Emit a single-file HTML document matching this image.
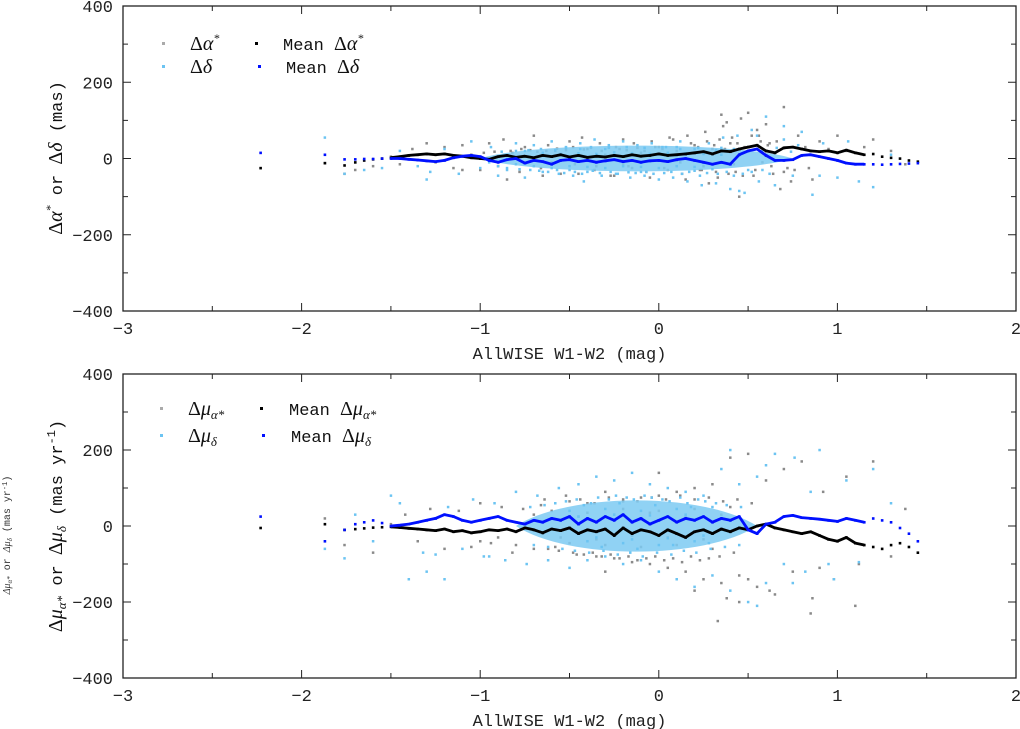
<!DOCTYPE html>
<html><head><meta charset="utf-8">
<style>
html,body{margin:0;padding:0;background:#fff;}
svg{display:block;}
.tk{font-family:"Liberation Mono",monospace;font-size:17px;fill:#222;}
.mono{font-family:"Liberation Mono",monospace;}
.gr{font-family:"Liberation Serif",serif;font-style:italic;}
</style></head>
<body>
<svg id="chart" width="1020" height="729" xmlns="http://www.w3.org/2000/svg">
<text transform="translate(10,535) rotate(-90)" text-anchor="middle" font-size="10" fill="#333"><tspan class="gr">Δμ</tspan><tspan class="gr" font-size="7" dy="2">α*</tspan><tspan class="mono" dy="-2"> or </tspan><tspan class="gr">Δμ</tspan><tspan class="gr" font-size="7" dy="2">δ</tspan><tspan class="mono" dy="-2"> (mas yr</tspan><tspan class="mono" font-size="7" dy="-3">-1</tspan><tspan class="mono" dy="3">)</tspan></text>
</svg>
<script>
// ---------- data: top panel (positions, mas) ----------
const xTicks=[-3,-2,-1,0,1,2];
const yTicks=[-400,-200,0,200,400];
const topGrayX=[-1.87,-1.76,-1.7,-1.6,-1.5,-1.45,-1.38,-1.3,-1.25,-1.2,-1.15,-1.1,-1.05,-1.0,-0.95,-0.9,-0.87,-0.82,-0.78,-0.75,-0.7,-0.66,-0.62,-0.58,-0.55,-0.5,-0.47,-0.43,-0.4,-0.36,-0.33,-0.3,-0.27,-0.24,-0.2,-0.17,-0.14,-0.1,-0.07,-0.04,0.0,0.03,0.06,0.1,0.13,0.16,0.2,0.23,0.26,0.3,0.33,0.36,0.4,0.43,0.46,0.5,0.53,0.56,0.6,0.63,0.66,0.7,0.74,0.78,0.82,0.86,0.9,0.95,1.0,1.05,1.1,1.15,1.2,1.3,1.38,0.35,0.38,0.5,0.55,0.62,0.68,0.45,0.28,0.15,-0.05,-0.25,-0.45,-0.65,-0.85,-1.1,-0.35,-0.15,0.05,0.25,0.42,0.58,0.72,-0.6,-0.2,0.1,
 0.12,0.18,0.22,0.27,0.31,0.34,0.37,0.41,0.44,0.48,0.52,0.57,0.61,0.08,0.02,-0.02,-0.08,-0.12,-0.18,-0.22,-0.28,-0.32,-0.38,-0.42,-0.48,-0.52,-0.57,-0.63,-0.68,-0.72,-0.77,-0.83,-0.92,-0.98,0.14,0.24,0.32,0.39,0.47,0.54,0.64,0.7,0.76,0.84];
const topGrayY=[-12,-40,-30,-20,5,-15,25,40,-10,30,-25,35,10,-30,40,-20,50,15,-35,30,60,-25,35,20,-40,45,-15,55,25,-30,40,10,-45,30,50,-20,40,15,-35,45,30,-25,55,20,-40,60,35,-30,70,25,-50,85,40,-35,105,30,-45,60,90,-20,45,135,-60,60,30,-55,45,25,60,20,-15,30,50,20,-15,115,95,120,75,40,-80,-100,-65,-55,-50,-45,-40,-45,-55,-30,-20,-25,-30,-20,-15,-10,-25,-10,-15,-5,-10,
 40,30,45,35,50,25,55,40,30,60,45,35,50,25,30,20,28,22,25,30,20,28,24,30,22,26,20,18,22,25,20,18,15,12,-30,-35,-40,-45,-30,-40,-35,-30,-25,-20];
const topBlueX=[-1.87,-1.76,-1.65,-1.55,-1.45,-1.35,-1.28,-1.2,-1.12,-1.05,-1.0,-0.94,-0.9,-0.85,-0.8,-0.75,-0.7,-0.65,-0.6,-0.56,-0.52,-0.48,-0.44,-0.4,-0.36,-0.32,-0.28,-0.24,-0.2,-0.16,-0.12,-0.08,-0.04,0.0,0.04,0.08,0.12,0.16,0.2,0.24,0.28,0.32,0.36,0.4,0.44,0.48,0.52,0.56,0.6,0.65,0.7,0.75,0.8,0.86,0.92,1.0,1.06,1.12,1.2,1.3,-0.7,-0.6,-0.5,-0.4,-0.3,-0.2,-0.1,0.0,0.1,0.2,0.3,-0.65,-0.55,-0.45,-0.35,-0.25,-0.15,-0.05,0.05,0.15,0.25,0.35,-0.8,-0.75,-0.5,-0.3,-0.1,0.1,0.2,0.35,0.5,0.62,0.78,0.9,-1.3,-0.95,-0.42,0.45,0.55,0.7,
 -0.9,-0.85,-0.78,-0.72,-0.67,-0.62,-0.57,-0.53,-0.47,-0.43,-0.37,-0.33,-0.27,-0.23,-0.17,-0.13,-0.07,-0.03,0.03,0.07,0.13,0.17,0.23,0.27,0.33,0.38,0.42,0.47,0.52,0.58,-0.88,-0.8,-0.73,-0.66,-0.58,-0.52,-0.44,-0.38,-0.28,-0.18,-0.08,0.02,0.12,0.22,0.32,0.42,0.5,0.58,0.66,0.74];
const topBlueY=[55,-40,-30,-25,20,-20,-35,25,-40,45,-25,30,-45,-30,40,-50,35,-35,45,-40,30,-45,40,-35,50,-45,35,-40,45,-50,35,-45,40,-55,30,-50,45,-60,25,-70,40,-65,55,-80,60,-90,75,-60,110,-70,85,-45,70,-95,40,-50,45,-60,-75,10,-20,-25,-20,-22,-25,-20,-22,-25,-20,-22,-28,15,12,14,12,16,14,12,15,14,12,10,-15,20,-30,25,-35,30,-32,28,-30,-40,35,-45,-55,-10,-60,-85,60,50,
 -20,-25,-28,-30,-32,-35,-30,-38,-35,-40,-32,-38,-35,-40,-36,-38,-35,-40,-38,-35,-40,-35,-45,-38,-40,-35,-45,-40,-35,-30,18,20,22,25,22,28,25,30,28,30,28,30,25,28,22,25,30,20,28,18];
const topMeanAX=[-2.23,-1.87,-1.76,-1.7,-1.65,-1.6,-1.55,-1.5,-1.45,-1.4,-1.35,-1.3,-1.25,-1.2,-1.15,-1.1,-1.05,-1.0,-0.95,-0.9,-0.85,-0.8,-0.75,-0.7,-0.65,-0.6,-0.55,-0.5,-0.45,-0.4,-0.35,-0.3,-0.25,-0.2,-0.15,-0.1,-0.05,0.0,0.05,0.1,0.15,0.2,0.25,0.3,0.35,0.4,0.45,0.5,0.55,0.6,0.65,0.7,0.75,0.8,0.85,0.9,0.95,1.0,1.05,1.1,1.15,1.2,1.25,1.3,1.35,1.4,1.45];
const topMeanAY=[-25,-12,-18,-10,-5,-2,0,2,5,8,10,12,10,12,8,6,2,0,-2,5,8,3,6,2,8,5,10,4,8,3,6,4,8,5,10,6,8,12,8,10,12,15,18,12,20,18,25,30,35,20,15,28,30,25,20,18,20,15,22,15,10,12,5,2,0,-5,-8];
const topMeanDX=topMeanAX;
const topMeanDY=[15,10,-2,-2,-1,-1,0,0,0,-2,-4,-6,-8,-5,2,6,8,5,-5,-10,-3,0,-12,-5,-8,-15,-5,-3,-8,-5,-10,-6,-3,-8,-5,-10,-6,-5,-8,-3,0,-5,-10,-15,-10,-15,10,20,25,8,-5,-5,-3,8,10,5,0,-5,-12,-15,-15,-15,-16,-15,-14,-13,-12];
// ---------- data: bottom panel (proper motions, mas/yr) ----------
const botGrayX=[-1.87,-1.76,-1.6,-1.5,-1.42,-1.35,-1.28,-1.2,-1.12,-1.05,-1.0,-0.94,-0.88,-0.82,-0.76,-0.7,-0.64,-0.58,-0.52,-0.46,-0.4,-0.35,-0.3,-0.25,-0.2,-0.15,-0.1,-0.05,0.0,0.05,0.1,0.15,0.2,0.25,0.3,0.35,0.4,0.45,0.5,0.55,0.6,0.65,0.7,0.75,0.8,0.86,0.92,0.98,1.05,1.12,1.2,1.3,1.38,-0.6,-0.5,-0.4,-0.3,-0.2,-0.1,0.0,0.1,0.2,0.3,0.4,-0.55,-0.45,-0.35,-0.25,-0.15,-0.05,0.05,0.15,0.25,0.35,-0.8,-0.7,0.33,0.45,0.62,0.85,1.1,0.9,0.5,0.38,0.2,-0.9,-1.0,-0.3,0.0,
 -0.62,-0.56,-0.48,-0.42,-0.37,-0.32,-0.27,-0.22,-0.17,-0.12,-0.07,-0.02,0.03,0.08,0.13,0.18,0.23,0.28,0.34,0.42,-0.66,-0.58,-0.5,-0.44,-0.36,-0.28,-0.2,-0.12,-0.04,0.04,0.12,0.2,0.28,0.36,0.44,0.52];
const botGrayY=[20,-50,-70,5,30,-40,45,-60,40,-55,60,-45,50,-70,45,-60,70,-55,80,-75,60,-80,90,-85,65,-95,75,-100,80,-110,90,-120,100,-140,110,-150,180,-130,190,-160,120,-180,150,-120,170,-190,90,-140,130,-100,170,-80,45,40,-45,35,-50,45,-55,40,-50,45,-60,50,-30,25,-35,30,-25,35,-30,25,-35,30,-50,30,-250,-200,-170,-230,-210,-110,-140,-190,-170,-30,-40,-120,140,
 -60,-65,-70,-75,-70,-80,-75,-85,-80,-90,-85,-80,-90,-85,-95,-80,-90,-85,-80,-70,55,60,65,70,60,75,70,65,75,70,80,70,75,65,70,60];
const botBlueX=[-1.87,-1.76,-1.7,-1.6,-1.5,-1.45,-1.4,-1.32,-1.25,-1.18,-1.1,-1.04,-0.98,-0.92,-0.86,-0.8,-0.74,-0.68,-0.62,-0.56,-0.5,-0.45,-0.4,-0.35,-0.3,-0.25,-0.2,-0.15,-0.1,-0.05,0.0,0.05,0.1,0.15,0.2,0.25,0.3,0.35,0.4,0.45,0.5,0.55,0.6,0.65,0.7,0.76,0.82,0.9,0.98,1.05,1.12,1.2,1.3,-0.5,-0.4,-0.3,-0.2,-0.1,0.0,0.1,0.2,0.3,-0.45,-0.35,-0.25,-0.15,-0.05,0.05,0.15,0.25,-0.42,-0.32,-0.22,-0.12,-0.02,0.08,0.18,0.28,-1.3,-1.2,-0.95,0.4,0.55,0.75,0.95,0.6,0.85,
 -0.72,-0.64,-0.58,-0.52,-0.46,-0.38,-0.34,-0.28,-0.24,-0.18,-0.14,-0.08,-0.04,0.02,0.06,0.12,0.16,0.22,0.26,0.32,0.38,0.46,-0.7,-0.62,-0.54,-0.47,-0.39,-0.31,-0.23,-0.16,-0.09,-0.01,0.07,0.14,0.21,0.29,0.37,0.45];
const botBlueY=[-60,-85,30,-40,80,60,-140,-70,-75,50,-60,70,-80,60,-90,90,-100,80,-90,100,-110,110,-90,130,-80,120,-100,140,-90,110,-120,100,-140,90,-160,80,-130,150,-170,110,-200,130,-150,190,-100,180,-120,200,-140,120,-95,150,60,40,-40,45,-45,40,-50,45,-40,50,25,-30,30,-35,28,-32,30,-25,55,-55,60,-60,55,-50,50,-45,-120,-140,-80,200,-210,-150,-100,160,90,
 50,55,60,65,70,60,75,70,80,75,70,80,75,70,65,75,60,70,65,60,55,50,-50,-55,-60,-65,-70,-65,-75,-70,-80,-70,-75,-65,-70,-60,-55,-50];
const botMeanAX=[-2.23,-1.87,-1.76,-1.7,-1.65,-1.6,-1.55,-1.5,-1.45,-1.4,-1.35,-1.3,-1.25,-1.2,-1.15,-1.1,-1.05,-1.0,-0.95,-0.9,-0.85,-0.8,-0.75,-0.7,-0.65,-0.6,-0.55,-0.5,-0.45,-0.4,-0.35,-0.3,-0.25,-0.2,-0.15,-0.1,-0.05,0.0,0.05,0.1,0.15,0.2,0.25,0.3,0.35,0.4,0.45,0.5,0.55,0.6,0.65,0.7,0.75,0.8,0.85,0.9,0.95,1.0,1.05,1.1,1.15,1.2,1.25,1.3,1.35,1.4,1.45];
const botMeanAY=[-5,5,-10,-8,-6,-4,-3,-2,-4,-6,-8,-10,-12,-8,-15,-12,-18,-15,-10,-12,-8,-15,-5,-10,-18,-8,-12,-5,-20,-10,-15,-8,-25,-5,-20,-10,-15,-25,-10,-20,-30,-15,-10,-20,-8,-15,-5,-10,0,5,-5,-10,-15,-20,-15,-25,-35,-40,-30,-45,-50,-55,-60,-50,-45,-55,-70];
const botMeanDX=botMeanAX;
const botMeanDY=[25,-40,-10,5,10,15,8,0,2,5,10,15,20,30,25,15,10,15,20,25,15,10,5,15,10,20,15,25,5,20,10,25,15,30,10,20,5,15,25,10,20,15,25,10,20,15,25,-10,-20,5,10,25,28,22,20,18,15,12,20,15,10,20,15,10,-5,-20,-40];
</script>
<script>
const svg=document.getElementById('chart');
const NS='http://www.w3.org/2000/svg';
const X0=123,X1=1016;
function sx(v){return X0+(v+3)/5*(X1-X0);}
function mk(tag,attrs,parent){const e=document.createElementNS(NS,tag);for(const k in attrs)e.setAttribute(k,attrs[k]);(parent||svg).appendChild(e);return e;}
function panel(name,top,bottom,xTitle,grayX,grayY,blueX,blueY,mAX,mAY,mDX,mDY,coreX0,coreX1,coreH){
  const g=mk('g',{});
  
  
  const sy=v=>top+(400-v)/800*(bottom-top);
  const sg=mk('g',{},g);
  
  
  for(let i=0;i<grayX.length;i++){const c=mk('rect',{x:sx(grayX[i])-1.2,y:sy(grayY[i])-1.2,width:2.5,height:2.5,fill:'#8a8a8a'},sg);}
  const core=mk('path',{d:'M'+sx(coreX0)+','+sy(0)+' C'+sx(coreX0+0.3)+','+sy(-coreH)+' '+sx(coreX1-0.3)+','+sy(-coreH)+' '+sx(coreX1)+','+sy(0)+' C'+sx(coreX1-0.3)+','+sy(coreH)+' '+sx(coreX0+0.3)+','+sy(coreH)+' '+sx(coreX0)+','+sy(0)+'Z',fill:'#7ccaf2',opacity:0.85},g);
  
  
  const bg=mk('g',{},g);
  
  
  for(let i=0;i<blueX.length;i++){const c=mk('rect',{x:sx(blueX[i])-1.2,y:sy(blueY[i])-1.2,width:2.5,height:2.5,fill:'#6cc4f2'},bg);}
  function meanLine(xs,ys,col,nm){
    const lg=mk('g',{},g);
    
    
    let d='';
    for(let i=0;i<xs.length;i++){
      if(xs[i]>-1.55&&xs[i]<1.2){d+=(d?'L':'M')+sx(xs[i]).toFixed(1)+','+sy(ys[i]).toFixed(1);}
      const p=mk('rect',{x:sx(xs[i])-1.2,y:sy(ys[i])-1.2,width:2.6,height:2.6,fill:col},lg);
      
      
    }
    const pl=mk('path',{d:d,fill:'none',stroke:col,'stroke-width':2.8,'stroke-linejoin':'round'},lg);
    
    
  }
  meanLine(mAX,mAY,'#000','mean-ra-series');
  meanLine(mDX,mDY,'#0010ff','mean-dec-series');
  const fr=mk('rect',{x:X0,y:top,width:X1-X0,height:bottom-top,fill:'none',stroke:'#222','stroke-width':1.3},g);
  
  
  for(let v=-3;v<=2.001;v+=0.5){const maj=Math.abs(v-Math.round(v))<1e-6;const L=maj?8:5;
    mk('line',{x1:sx(v),x2:sx(v),y1:bottom,y2:bottom-L,stroke:'#222'},g);mk('line',{x1:sx(v),x2:sx(v),y1:top,y2:top+L,stroke:'#222'},g);}
  for(let v=-400;v<=400;v+=100){const maj=v%200===0;const L=maj?8:5;
    mk('line',{x1:X0,x2:X0+L,y1:sy(v),y2:sy(v),stroke:'#222'},g);mk('line',{x1:X1,x2:X1-L,y1:sy(v),y2:sy(v),stroke:'#222'},g);}
  xTicks.forEach(v=>{const t=mk('text',{x:sx(v),y:bottom+23,'text-anchor':'middle',class:'tk'},g);t.textContent=v<0?'\u2212'+(-v):String(v);
    });
  yTicks.forEach(v=>{const t=mk('text',{x:X0-10,y:sy(v)+6,'text-anchor':'end',class:'tk'},g);t.textContent=v<0?'\u2212'+(-v):String(v);
    });
  const xt=mk('text',{x:sx(-0.5),y:bottom+48,'text-anchor':'middle',class:'tk'},g);xt.textContent=xTitle;
  
  return sy;
}
panel('top',6,311,'AllWISE W1-W2 (mag)',topGrayX,topGrayY,topBlueX,topBlueY,topMeanAX,topMeanAY,topMeanDX,topMeanDY,-1.0,0.75,45);
panel('bottom',374,678,'AllWISE W1-W2 (mag)',botGrayX,botGrayY,botBlueX,botBlueY,botMeanAX,botMeanAY,botMeanDX,botMeanDY,-0.8,0.55,90);
</script>
<svg width="1020" height="729" style="position:absolute;left:0;top:0" xmlns="http://www.w3.org/2000/svg">
<g fill="#111">
 <rect x="162" y="42" width="3" height="3" fill="#aaa"/>
 <text x="190" y="50"><tspan font-family="Liberation Serif" font-size="20">Δ</tspan><tspan class="gr" font-size="20">α</tspan><tspan class="gr" font-size="12" dy="-8">*</tspan></text>
 <rect x="162" y="65" width="3" height="3" fill="#6cc4f2"/>
 <text x="190" y="73"><tspan font-family="Liberation Serif" font-size="20">Δ</tspan><tspan class="gr" font-size="20">δ</tspan></text>
 <rect x="255" y="42" width="3" height="3" fill="#000"/>
 <text x="283" y="50"><tspan class="mono" font-size="17">Mean </tspan><tspan font-family="Liberation Serif" font-size="20">Δ</tspan><tspan class="gr" font-size="20">α</tspan><tspan class="gr" font-size="12" dy="-8">*</tspan></text>
 <rect x="258" y="65" width="3" height="3" fill="#0010ff"/>
 <text x="286" y="73"><tspan class="mono" font-size="17">Mean </tspan><tspan font-family="Liberation Serif" font-size="20">Δ</tspan><tspan class="gr" font-size="20">δ</tspan></text>
</g>
<g fill="#111">
 <rect x="160" y="407" width="3" height="3" fill="#aaa"/>
 <text x="188" y="415"><tspan font-family="Liberation Serif" font-size="20">Δ</tspan><tspan class="gr" font-size="20">μ</tspan><tspan class="gr" font-size="13" dy="4">α*</tspan></text>
 <rect x="160" y="434" width="3" height="3" fill="#6cc4f2"/>
 <text x="188" y="442"><tspan font-family="Liberation Serif" font-size="20">Δ</tspan><tspan class="gr" font-size="20">μ</tspan><tspan class="gr" font-size="13" dy="4">δ</tspan></text>
 <rect x="260" y="407" width="3" height="3" fill="#000"/>
 <text x="289" y="415"><tspan class="mono" font-size="17">Mean </tspan><tspan font-family="Liberation Serif" font-size="20">Δ</tspan><tspan class="gr" font-size="20">μ</tspan><tspan class="gr" font-size="13" dy="4">α*</tspan></text>
 <rect x="262" y="434" width="3" height="3" fill="#0010ff"/>
 <text x="291" y="442"><tspan class="mono" font-size="17">Mean </tspan><tspan font-family="Liberation Serif" font-size="20">Δ</tspan><tspan class="gr" font-size="20">μ</tspan><tspan class="gr" font-size="13" dy="4">δ</tspan></text>
</g>
<text transform="translate(62,158) rotate(-90)" text-anchor="middle" fill="#111"><tspan font-family="Liberation Serif" font-size="20">Δ</tspan><tspan class="gr" font-size="20">α</tspan><tspan class="gr" font-size="12" dy="-8">*</tspan><tspan class="mono" font-size="17" dy="8"> or </tspan><tspan font-family="Liberation Serif" font-size="20">Δ</tspan><tspan class="gr" font-size="20">δ</tspan><tspan class="mono" font-size="17">  (mas)</tspan></text>
<text transform="translate(62,526) rotate(-90)" text-anchor="middle" fill="#111"><tspan font-family="Liberation Serif" font-size="20">Δ</tspan><tspan class="gr" font-size="20">μ</tspan><tspan class="gr" font-size="13" dy="4">α*</tspan><tspan class="mono" font-size="17" dy="-4"> or </tspan><tspan font-family="Liberation Serif" font-size="20">Δ</tspan><tspan class="gr" font-size="20">μ</tspan><tspan class="gr" font-size="13" dy="4">δ</tspan><tspan class="mono" font-size="17" dy="-4"> (mas yr</tspan><tspan class="mono" font-size="12" dy="-7">-1</tspan><tspan class="mono" font-size="17" dy="7">)</tspan></text>
</svg>
</body></html>
